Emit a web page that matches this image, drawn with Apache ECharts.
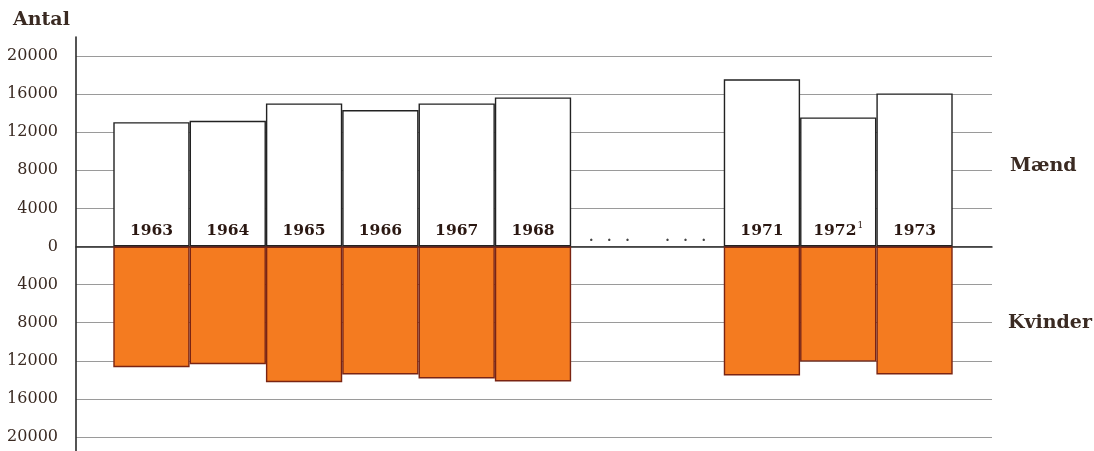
<!DOCTYPE html>
<html><head><meta charset="utf-8">
<script src="https://cdn.jsdelivr.net/npm/echarts@6/dist/echarts.min.js"></script>
<style>html,body{margin:0;padding:0;background:#fff}#c{width:1094px;height:451px}</style>
</head><body><div id="c"></div>
<script>
const years = ['1963','1964','1965','1966','1967','1968','1969','1970','1971','1972','1973'];
const yearLabels = ['1963','1964','1965','1966','1967','1968','{dots|.   .   .}','{dots|.   .   .}','1971','1972{sup|1}','1973'];
const men = [13050,13190,15020,14320,15020,15650,null,null,17550,13550,16070];
const women = [12670,12360,14240,13440,13860,14170,null,null,13540,12080,13440];
const labelBase = [0,0,0,0,0,0,0,0,0,0,0];
const yMin = -20000, yMax = 20000, yStep = 4000;
const font = 'DejaVu Serif';
const ink = '#3a2a22';

const chart = echarts.init(document.getElementById('c'), null, {renderer:'canvas'});
chart.setOption({
  animation:false,
  backgroundColor:'#fff',
  title:[
    {text:'Antal', left:8, top:6, textStyle:{fontFamily:font, fontWeight:'bold', fontSize:19, color:ink}},
    {text:'Mænd', left:1005, top:152, textStyle:{fontFamily:font, fontWeight:'bold', fontSize:19, color:ink}},
    {text:'Kvinder', left:1003, top:309, textStyle:{fontFamily:font, fontWeight:'bold', fontSize:19, color:ink}}
  ],
  grid:[
    {left:76, right:102, top:56, bottom:14},
    {left:113.3, right:141.3, top:56, bottom:14},
    {left:76, width:10, top:37, bottom:0}
  ],
  xAxis:[
    {gridIndex:0, type:'value', min:0, max:1, axisLine:{show:true, onZero:true, lineStyle:{color:'#2a2a2a', width:1.5}},
     axisTick:{show:false}, axisLabel:{show:false}, splitLine:{show:false}},
    {gridIndex:1, type:'category', data:years, axisLine:{show:false},
     axisTick:{show:false}, splitLine:{show:false}, axisLabel:{show:false}},
    {gridIndex:2, type:'value', show:false, min:0, max:1}
  ],
  yAxis:[
    {gridIndex:0, type:'value', min:yMin, max:yMax, interval:yStep,
     axisLine:{show:false}, axisTick:{show:false},
     splitLine:{show:true, lineStyle:{color:'#9a9a9a', width:1.2}},
     axisLabel:{margin:18, fontFamily:font, fontSize:16, color:ink, formatter:v=>String(Math.abs(v))}},
    {gridIndex:1, type:'value', min:yMin, max:yMax, interval:yStep,
     axisLine:{show:false}, axisTick:{show:false}, axisLabel:{show:false}, splitLine:{show:false}},
    {gridIndex:2, type:'value', min:0, max:1, axisLine:{show:true, lineStyle:{color:'#2a2a2a', width:1.6}},
     axisTick:{show:false}, axisLabel:{show:false}, splitLine:{show:false}}
  ],
  series:[
    {name:'Mænd', type:'bar', xAxisIndex:1, yAxisIndex:1, stack:'a', barWidth:'100%', barCategoryGap:'0%', barGap:'-100%',
     data:men, itemStyle:{color:'#fff', borderColor:'#222', borderWidth:1.4}},
    {name:'Kvinder', type:'bar', xAxisIndex:1, yAxisIndex:1, stack:'a', barWidth:'100%', barCategoryGap:'0%', barGap:'-100%',
     data:women.map(v=>v==null?null:-v), itemStyle:{color:'#f47b20', borderColor:'#7a2412', borderWidth:1.4}},
    {name:'År', type:'bar', xAxisIndex:1, yAxisIndex:1, stack:'labels', barWidth:'100%', barCategoryGap:'0%', barGap:'-100%',
     data:labelBase, itemStyle:{color:'rgba(0,0,0,0)', borderWidth:0}, silent:true, z:5,
     label:{show:true, position:'top', distance:5, lineHeight:22, fontFamily:font, fontWeight:'bold', fontSize:15.5, color:'#2b1812',
       formatter:p=>yearLabels[p.dataIndex],
       rich:{sup:{fontFamily:font, fontWeight:'normal', fontSize:9, lineHeight:9, color:'#2b1812', padding:[0,0,9,1]},
             dots:{fontFamily:font, fontWeight:'bold', fontSize:13, lineHeight:13, color:'#444', padding:[6,0,0,0]}}}}
  ]
});
</script></body></html>
